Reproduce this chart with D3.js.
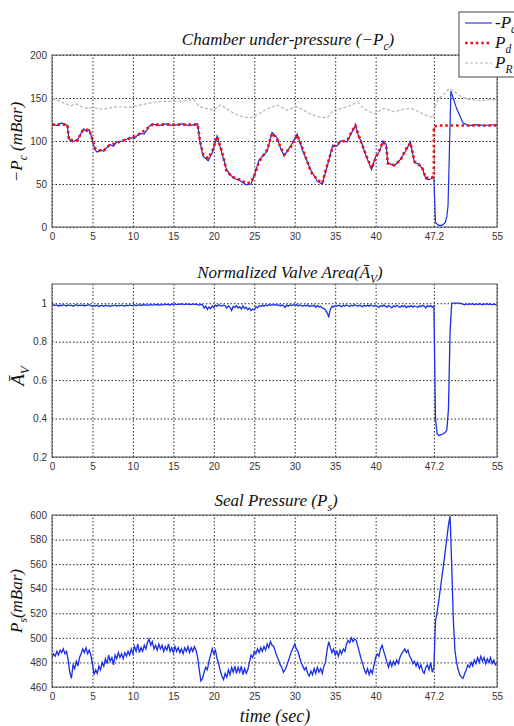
<!DOCTYPE html>
<html>
<head>
<meta charset="utf-8">
<script src="https://cdn.jsdelivr.net/npm/d3@7"></script>
<style>
  body { margin: 0; background: #fff; }
  svg { display: block; }
</style>
</head>
<body>
<div id="chart"></div>
<script>
// ---- data ----
const timeTicks = [0, 5, 10, 15, 20, 25, 30, 35, 40, 47.2, 55];
const pcTicks = [0, 50, 100, 150, 200];
const avTicks = [0.2, 0.4, 0.6, 0.8, 1];
const psTicks = [460, 480, 500, 520, 540, 560, 580, 600];

// desired pressure P_d, [time, mBar]
const pdPoints = [
  [0, 119], [1.9, 119], [2.1, 101], [3.2, 101], [3.6, 110], [3.9, 113], [4.6, 113], [4.9, 105],
  [5.3, 92], [5.6, 89], [6.4, 89], [7.1, 95], [8.0, 98], [9.6, 103], [10.8, 108], [12.0, 116],
  [12.4, 119], [14, 119], [16, 119], [18.0, 119], [18.3, 100], [18.7, 84], [19.3, 80], [19.8, 88],
  [20.4, 105], [21.0, 88], [21.6, 64], [22.4, 58], [23.2, 55], [24.0, 51], [24.6, 52], [25.1, 62],
  [25.6, 76], [26.6, 90], [27.2, 109], [27.8, 103], [28.3, 92], [28.7, 84], [29.5, 93], [30.3, 107],
  [31.1, 88], [32.0, 64], [32.8, 55], [33.4, 51], [34.0, 72], [34.7, 93], [35.2, 96], [35.7, 99],
  [36.5, 101], [37.0, 110], [37.5, 118], [37.9, 107], [38.2, 99], [38.8, 84], [39.5, 68], [40.0, 80],
  [40.5, 90], [40.9, 99], [41.3, 95], [41.5, 74], [42.3, 72], [43.1, 78], [43.7, 90], [44.3, 98],
  [44.8, 76], [45.4, 72], [45.8, 68], [46.2, 57], [47.0, 58], [47.2, 58], [47.2, 117], [48.0, 118],
  [55, 118]
];

// measured chamber under-pressure -P_c, [time, mBar]
const pcPoints = [
  [0, 120], [0.6, 118], [1.2, 121], [1.9, 118], [2.1, 102], [2.6, 99], [3.2, 102], [3.6, 109],
  [3.9, 114], [4.3, 111], [4.6, 113], [4.9, 104], [5.3, 90], [5.6, 87], [6.0, 90], [6.4, 88],
  [7.1, 96], [7.6, 94], [8.0, 99], [8.8, 100], [9.6, 104], [10.2, 103], [10.8, 109], [11.4, 108],
  [12.0, 117], [12.4, 120], [13.2, 118], [14, 120], [15, 118], [16, 120], [17, 118], [18.0, 120],
  [18.3, 98], [18.7, 82], [19.3, 77], [19.8, 86], [20.4, 106], [21.0, 86], [21.6, 66], [22.4, 57],
  [23.2, 54], [24.0, 49], [24.6, 50], [25.1, 63], [25.6, 78], [26.6, 88], [27.2, 110], [27.8, 104],
  [28.3, 90], [28.7, 83], [29.5, 94], [30.3, 108], [31.1, 86], [32.0, 66], [32.8, 53], [33.4, 50],
  [34.0, 70], [34.7, 95], [35.2, 94], [35.7, 100], [36.5, 99], [37.0, 109], [37.5, 118], [37.9, 105],
  [38.2, 100], [38.8, 83], [39.5, 67], [40.0, 82], [40.5, 88], [40.9, 100], [41.3, 96], [41.5, 75],
  [42.3, 71], [43.1, 79], [43.7, 88], [44.3, 99], [44.8, 75], [45.4, 73], [45.8, 67], [46.2, 56],
  [46.6, 55], [47.0, 57], [47.2, 56], [47.4, 5], [47.8, 2], [48.2, 2], [48.6, 5], [48.8, 12],
  [48.95, 25], [49.3, 158], [50.0, 138], [50.8, 121], [51.5, 118], [52.5, 119], [53.5, 118], [55, 119]
];

// reference pressure P_R, [time, mBar]
const prPoints = [
  [0, 149], [0.8, 147], [1.5, 144], [2.3, 141], [3.0, 143], [3.6, 140], [4.4, 138], [5.2, 139],
  [6.0, 137], [7.0, 138], [8.0, 140], [9.5, 139], [10.5, 141], [12.0, 144], [13.5, 146], [15, 146],
  [16.5, 147], [17.5, 148], [18.2, 140], [19.0, 138], [20.0, 136], [20.8, 142], [21.5, 138], [22.5, 132],
  [23.5, 128], [24.5, 127], [25.5, 131], [26.5, 137], [27.8, 142], [29.0, 136], [30.3, 140], [31.2, 135],
  [32.0, 131], [33.0, 128], [34.0, 127], [34.8, 136], [35.5, 137], [36.5, 140], [37.8, 145], [38.5, 138],
  [39.2, 134], [40.0, 132], [41.0, 138], [42.3, 134], [43.5, 137], [44.4, 138], [45.3, 134], [46.2, 130],
  [47.1, 127], [47.5, 145], [47.9, 150], [48.6, 156], [49.1, 161], [49.8, 157], [50.5, 152], [51.2, 149],
  [52, 148], [53, 147], [54, 148], [55, 148]
];

// sampled every 0.2 s from t = 0 to 55
const sampleStep = 0.2;

// normalized valve area
const avValues = [
  .990,.992,.988,.991,.985,.990,.987,.992,.989,.986,.991,.988,.990,.984,.989,.992,.987,.990,.988,.991,.986,.990,.989,.992,.988,
  .983,.988,.985,.990,.982,.987,.989,.984,.990,.986,.988,.983,.989,.987,.991,.985,.989,.986,.990,.988,.984,.990,.987,.991,.988,
  .989,.992,.987,.990,.991,.988,.993,.990,.992,.989,.991,.993,.990,.992,.994,.991,.993,.990,.994,.992,.995,.993,.994,.991,.995,
  .994,.996,.993,.995,.994,.996,.995,.993,.996,.994,.995,.993,.996,.994,.995,.993,.990,.994,.992,.975,.985,.968,.980,.972,.986,
  .978,.990,.984,.992,.988,.985,.990,.987,.975,.986,.980,.962,.984,.978,.988,.975,.982,.970,.986,.972,.979,.966,.975,.962,.970,
  .965,.982,.976,.988,.983,.990,.985,.991,.987,.993,.989,.992,.990,.994,.988,.992,.986,.991,.988,.978,.990,.985,.991,.988,.992,
  .989,.993,.986,.991,.988,.984,.990,.986,.992,.982,.988,.985,.990,.978,.988,.980,.984,.975,.972,.965,.950,.930,.968,.985,.980,
  .988,.984,.990,.986,.982,.989,.985,.991,.987,.983,.990,.986,.992,.988,.984,.990,.986,.982,.989,.984,.990,.985,.991,.987,.983,
  .989,.984,.978,.987,.983,.990,.985,.980,.988,.983,.976,.986,.982,.989,.984,.978,.987,.982,.988,.976,.985,.981,.988,.980,.986,
  .983,.978,.987,.982,.989,.985,.975,.987,.982,.988,.980,.986,.400,.320,.312,.315,.318,.322,.328,.340,.450,.850,1.00,1.00,1.00,
  1.00,1.00,1.00,.998,.995,.992,.996,.993,.997,.994,.998,.992,.996,.993,.997,.995,.992,.996,.994,.997,.993,.996,.992,.995,.993,
  .995
];

// seal pressure, mBar
const psValues = [
  484,487,485,489,486,490,488,491,487,489,482,472,467,478,475,481,477,484,487,491,488,492,487,490,486,
  479,470,474,471,477,474,480,477,483,479,486,481,484,478,486,483,488,484,487,483,488,485,489,486,491,
  487,493,489,495,488,492,489,494,491,496,499,494,497,491,494,490,495,491,494,489,493,490,495,489,492,
  488,493,489,492,488,491,487,492,489,493,488,492,489,493,490,484,474,465,467,472,476,474,481,486,491,
  487,490,483,479,473,469,466,471,468,474,470,476,472,477,471,476,472,477,470,475,471,474,480,486,484,
  489,487,491,488,492,489,493,490,495,492,497,494,493,489,485,482,478,476,472,474,477,481,485,489,492,
  495,491,489,484,480,477,474,476,471,469,473,470,475,471,476,472,475,471,477,480,490,497,492,488,491,
  486,489,485,490,487,491,489,495,498,496,500,497,499,498,493,488,483,479,474,471,475,470,474,471,478,
  484,487,485,491,494,489,485,480,476,481,477,481,478,482,479,484,487,489,491,488,490,485,483,479,481,
  477,480,475,478,473,471,476,478,474,480,472,476,514,521,530,540,550,560,570,581,592,599,560,515,490,
  480,474,470,468,467,471,474,478,476,480,477,482,479,484,480,485,481,484,479,483,480,484,479,482,478,
  480
];

// ---- layout ----
const width = 514, height = 726;
const plotLeft = 52, plotRight = 497;
const blue = "#1a2ee8";
const tickFont = "'Liberation Sans', Arial, sans-serif";
const mathFont = "'Liberation Serif', 'DejaVu Serif', serif";

const svg = d3.select("#chart").append("svg")
    .attr("width", width)
    .attr("height", height);

const x = d3.scaleLinear().domain([0, 55]).range([plotLeft, plotRight]);
const tickLabel = d => String(d);

// writes text made of plain and subscript pieces: [["Chamber ("], ["P"], ["c", "sub"], [")", "back"]]
function mathText(sel, parts, size) {
    parts.forEach(p => {
        const ts = sel.append("tspan").text(p[0]);
        if (p[1] === "sub") {
            ts.attr("font-size", size * 0.68).attr("dy", size * 0.28);
        } else if (p[1] === "back") {
            ts.attr("dy", -size * 0.28);
        }
    });
}

function panel(id, top, bottom, domain, yTicks) {
    const y = d3.scaleLinear().domain(domain).range([bottom, top]);
    const h = bottom - top;
    const g = svg.append("g");

    g.append("clipPath").attr("id", "clip-" + id)
        .append("rect")
        .attr("x", plotLeft).attr("y", top)
        .attr("width", plotRight - plotLeft).attr("height", h);

    // vertical grid
    g.append("g")
        .attr("transform", "translate(0," + bottom + ")")
        .call(d3.axisBottom(x).tickValues(timeTicks).tickSize(-h).tickFormat(""))
        .call(a => a.select(".domain").remove())
        .selectAll("line")
        .attr("stroke", "#111")
        .attr("stroke-width", 0.9)
        .attr("stroke-dasharray", "1.5,2");

    // horizontal grid
    g.append("g")
        .attr("transform", "translate(" + plotLeft + ",0)")
        .call(d3.axisLeft(y).tickValues(yTicks).tickSize(-(plotRight - plotLeft)).tickFormat(""))
        .call(a => a.select(".domain").remove())
        .selectAll("line")
        .attr("stroke", "#111")
        .attr("stroke-width", 0.9)
        .attr("stroke-dasharray", "1.5,2");

    // tick labels
    const xa = g.append("g")
        .attr("transform", "translate(0," + bottom + ")")
        .call(d3.axisBottom(x).tickValues(timeTicks).tickSize(0).tickPadding(6).tickFormat(tickLabel));
    xa.select(".domain").remove();
    xa.selectAll("text").attr("font-family", tickFont).attr("font-size", 10).attr("fill", "#333");

    const ya = g.append("g")
        .attr("transform", "translate(" + plotLeft + ",0)")
        .call(d3.axisLeft(y).tickValues(yTicks).tickSize(0).tickPadding(5).tickFormat(tickLabel));
    ya.select(".domain").remove();
    ya.selectAll("text").attr("font-family", tickFont).attr("font-size", 10).attr("fill", "#333");

    const plot = g.append("g").attr("clip-path", "url(#clip-" + id + ")");

    // frame drawn after the data
    const frame = () => g.append("rect")
        .attr("x", plotLeft).attr("y", top)
        .attr("width", plotRight - plotLeft).attr("height", h)
        .attr("fill", "none")
        .attr("stroke", "#555")
        .attr("stroke-width", 1);

    return { y, plot, frame };
}

function title(text, cx, baseline, size) {
    const t = svg.append("text")
        .attr("x", cx).attr("y", baseline)
        .attr("text-anchor", "middle")
        .attr("font-family", mathFont)
        .attr("font-style", "italic")
        .attr("font-size", size)
        .attr("fill", "#111");
    mathText(t, text, size);
    return t;
}

function yLabel(text, cx, cy, size) {
    const t = svg.append("text")
        .attr("transform", "translate(" + cx + "," + cy + ") rotate(-90)")
        .attr("text-anchor", "middle")
        .attr("font-family", mathFont)
        .attr("font-style", "italic")
        .attr("font-size", size)
        .attr("fill", "#111");
    mathText(t, text, size);
}

// ---- panel 1: chamber under-pressure ----
const p1 = panel("pc", 55, 227, [0, 200], pcTicks);
const line1 = d3.line().x(d => x(d[0])).y(d => p1.y(d[1]));

p1.plot.append("path")
    .datum(prPoints)
    .attr("d", line1)
    .attr("fill", "none")
    .attr("stroke", "#b4b4b4")
    .attr("stroke-width", 1.2)
    .attr("stroke-dasharray", "3,2");

p1.plot.append("path")
    .datum(pcPoints)
    .attr("d", line1)
    .attr("fill", "none")
    .attr("stroke", blue)
    .attr("stroke-width", 1.2);

p1.plot.append("path")
    .datum(pdPoints)
    .attr("d", line1)
    .attr("fill", "none")
    .attr("stroke", "#ee1111")
    .attr("stroke-width", 2.6)
    .attr("stroke-dasharray", "2.6,2.8");

p1.frame();
title([["Chamber under-pressure (\u2212"], ["P"], ["c", "sub"], [")", "back"]], 288, 45, 17);
yLabel([["\u2212P"], ["c", "sub"], [" (mBar)", "back"]], 22, 142, 17);

// ---- panel 2: normalized valve area ----
const p2 = panel("av", 284, 457, [0.2, 1.1], avTicks);
p2.plot.append("path")
    .datum(avValues)
    .attr("d", d3.line().x((d, i) => x(i * sampleStep)).y(d => p2.y(d)))
    .attr("fill", "none")
    .attr("stroke", blue)
    .attr("stroke-width", 1.3);
p2.frame();
title([["Normalized Valve Area(\u0100"], ["V", "sub"], [")", "back"]], 290, 278, 17);
yLabel([["\u0100"], ["V", "sub"]], 24, 376, 19);

// ---- panel 3: seal pressure ----
const p3 = panel("ps", 515, 687, [460, 600], psTicks);
p3.plot.append("path")
    .datum(psValues)
    .attr("d", d3.line().x((d, i) => x(i * sampleStep)).y(d => p3.y(d)))
    .attr("fill", "none")
    .attr("stroke", blue)
    .attr("stroke-width", 1.3);
p3.frame();
title([["Seal Pressure ("], ["P"], ["s", "sub"], [")", "back"]], 276, 506, 17);
yLabel([["P"], ["s", "sub"], ["(mBar)", "back"]], 22, 601, 17);

svg.append("text")
    .attr("x", 275).attr("y", 722)
    .attr("text-anchor", "middle")
    .attr("font-family", mathFont)
    .attr("font-style", "italic")
    .attr("font-size", 18)
    .attr("fill", "#111")
    .text("time (sec)");

// ---- legend (runs off the right edge, as in the original) ----
const legend = svg.append("g");
legend.append("rect")
    .attr("x", 459).attr("y", 12)
    .attr("width", 80).attr("height", 65)
    .attr("fill", "#fff")
    .attr("stroke", "#444")
    .attr("stroke-width", 1);

const legendItems = [
    { label: [["-P"], ["c", "sub"]], stroke: blue, width: 1.1, dash: null },
    { label: [["P"], ["d", "sub"]], stroke: "#ee1111", width: 2.6, dash: "2.6,2.8" },
    { label: [["P"], ["R", "sub"]], stroke: "#b4b4b4", width: 1.2, dash: "3,2" }
];
legendItems.forEach((it, i) => {
    const cy = 23 + i * 20;
    legend.append("line")
        .attr("x1", 465).attr("x2", 492)
        .attr("y1", cy).attr("y2", cy)
        .attr("stroke", it.stroke)
        .attr("stroke-width", it.width)
        .attr("stroke-dasharray", it.dash);
    const t = legend.append("text")
        .attr("x", 495).attr("y", cy + 5)
        .attr("font-family", mathFont)
        .attr("font-style", "italic")
        .attr("font-size", 17)
        .attr("fill", "#111");
    mathText(t, it.label, 17);
});
</script>
</body>
</html>
